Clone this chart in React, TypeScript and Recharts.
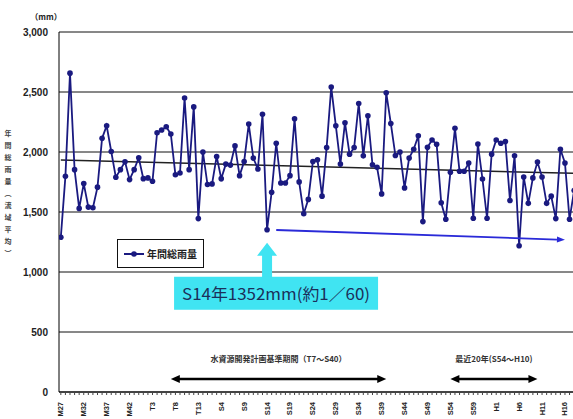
import React from 'react';
import {
  ComposedChart,
  Line,
  XAxis,
  YAxis,
  CartesianGrid,
  Legend,
  ReferenceLine,
  ReferenceDot,
} from 'recharts';

// ---- data ----
const firstYear = 1894;
const rainfall = [
  1290, 1797, 2657, 1853, 1530, 1737, 1541, 1536, 1707, 2114,
  2219, 2004, 1789, 1853, 1919, 1770, 1853, 1952, 1778, 1784,
  1756, 2161, 2183, 2211, 2150, 1811, 1825, 2450, 1853, 2376,
  1445, 1999, 1729, 1734, 1963, 1778, 1899, 1891, 2051, 1803,
  1921, 2233, 1949, 1858, 2315, 1352, 1665, 2073, 1742, 1742,
  1803, 2277, 1751, 1486, 1605, 1921, 1935, 1632, 2037, 2541,
  2219, 1899, 2244, 1982, 2037, 2404, 1968, 2302, 1894, 1872,
  1651, 2494, 2238, 1971, 1999, 1701, 1949, 2023, 2136, 1420,
  2040, 2100, 2065, 1577, 1439, 1831, 2197, 1839, 1839, 1908,
  1448, 2067, 1775, 1448, 1982, 2100, 2073, 2087, 1596, 1968,
  1219, 1792, 1572, 1784, 1916, 1792, 1572, 1632, 1445, 2023,
  1908, 1439, 1680,
];
const years = rainfall.map((_, i) => firstYear + i);

const eraLabels = [
  'M27', 'M32', 'M37', 'M42', 'T3', 'T8', 'T13', 'S4', 'S9', 'S14', 'S19', 'S24',
  'S29', 'S34', 'S39', 'S44', 'S49', 'S54', 'S59', 'H1', 'H6', 'H11', 'H16',
];
const eraLabelYears = eraLabels.map((_, i) => firstYear + 5 * i);

const yTicks = [0, 500, 1000, 1500, 2000, 2500, 3000];

const trendEnds = [
  { year: 1894, value: 1933 },
  { year: 2006, value: 1822 },
];

const declineArrow = [
  { year: 1941, value: 1350 },
  { year: 2004, value: 1268 },
];

const periods = [
  { label: '水資源開発計画基準期間（T7～S40）', from: 1918, to: 1965 },
  { label: '最近20年(S54～H10)', from: 1979, to: 1998 },
];
const periodLevel = 108;

const callout = { year: 1939, value: 1352, text: 'S14年1352mm(約1／60)' };

const seriesName = '年間総雨量';
const yTitleChars = ['年', '間', '総', '雨', '量', '︵', '流', '域', '平', '均', '︶'];

const chartData = years.map((year, i) => {
  const t = trendEnds.find((d) => d.year === year);
  return { year, rain: rainfall[i], trend: t ? t.value : null };
});

// ---- styling ----
const NAVY = '#1a1a80';
const SANS = '"Liberation Sans", Arial, sans-serif';
const CJK = '"Noto Sans CJK JP", "Noto Sans", sans-serif';

const XTick = (props: any) => {
  const { x, y, payload } = props;
  const idx = eraLabelYears.indexOf(payload.value);
  if (idx < 0) return <g />;
  return (
    <text
      transform={`translate(${x + 2.5},${y + 5}) rotate(-90)`}
      textAnchor="end"
      fontSize={7.5}
      fontWeight="bold"
      fill="#222"
      fontFamily={SANS}
    >
      {eraLabels[idx]}
    </text>
  );
};

const YTitle = () => {
  return (
    <g>
      <text x={46} y={20} textAnchor="middle" fontSize={8} fontWeight="bold" fill="#222" fontFamily={CJK}>
        （mm）
      </text>
      {yTitleChars.map((c, i) => (
        <text
          key={i}
          x={8}
          y={136 + i * 12}
          textAnchor="middle"
          fontSize={7}
          fontWeight="bold"
          fill="#444"
          fontFamily={CJK}
        >
          {c}
        </text>
      ))}
    </g>
  );
};

const PeriodShape = (label: string) => (props: any) => {
  const { x1, y1, x2, y2 } = props;
  const hl = 9;
  const hw = 4;
  return (
    <g>
      <line x1={x1 + hl - 1} y1={y1} x2={x2 - hl + 1} y2={y2} stroke="#000" strokeWidth={2.5} />
      <polygon points={`${x1},${y1} ${x1 + hl},${y1 - hw} ${x1 + hl},${y1 + hw}`} fill="#000" />
      <polygon points={`${x2},${y2} ${x2 - hl},${y2 - hw} ${x2 - hl},${y2 + hw}`} fill="#000" />
      <text
        x={(x1 + x2) / 2}
        y={y1 - 17}
        textAnchor="middle"
        fontSize={8}
        fontWeight="bold"
        fill="#333"
        fontFamily={CJK}
      >
        {label}
      </text>
    </g>
  );
};

const ArrowShape = (props: any) => {
  const { x1, y1, x2, y2 } = props;
  const ang = Math.atan2(y2 - y1, x2 - x1);
  const hl = 8;
  const hw = 3;
  const bx = x2 - hl * Math.cos(ang);
  const by = y2 - hl * Math.sin(ang);
  const px = -Math.sin(ang) * hw;
  const py = Math.cos(ang) * hw;
  return (
    <g>
      <line x1={x1} y1={y1} x2={bx} y2={by} stroke="#2a2ad8" strokeWidth={1.8} />
      <polygon points={`${x2},${y2} ${bx + px},${by + py} ${bx - px},${by - py}`} fill="#2a2ad8" />
    </g>
  );
};

const CalloutShape = (props: any) => {
  const { cx, cy } = props;
  const cyan = '#40e4f2';
  return (
    <g>
      <polygon
        points={`${cx},${cy + 13} ${cx + 10},${cy + 26} ${cx + 5},${cy + 26} ${cx + 5},${cy + 48} ${cx - 5},${cy + 48} ${cx - 5},${cy + 26} ${cx - 10},${cy + 26}`}
        fill={cyan}
      />
      <rect x={cx - 93} y={cy + 47} width={204} height={33} fill={cyan} />
      <text
        x={cx + 9}
        y={cy + 70}
        textAnchor="middle"
        fontSize={16}
        fill="#1b2f5a"
        fontFamily={CJK}
        textLength={188}
        lengthAdjust="spacingAndGlyphs"
      >
        {callout.text}
      </text>
    </g>
  );
};

const LegendBox = () => (
  <div
    style={{
      width: 87,
      height: 29,
      boxSizing: 'border-box',
      border: '1.5px solid #111',
      background: '#fff',
      display: 'flex',
      alignItems: 'center',
      paddingLeft: 6,
    }}
  >
    <svg width={20} height={10} style={{ display: 'block' }}>
      <line x1={0} y1={5} x2={20} y2={5} stroke={NAVY} strokeWidth={2} />
      <circle cx={10} cy={5} r={2.8} fill={NAVY} />
    </svg>
    <span
      style={{
        marginLeft: 3,
        fontSize: 10,
        fontWeight: 'bold',
        color: '#222',
        fontFamily: CJK,
        lineHeight: '10px',
        whiteSpace: 'nowrap',
      }}
    >
      {seriesName}
    </span>
  </div>
);

export default function App() {
  return (
    <div
      style={{
        position: 'fixed',
        left: 0,
        top: 0,
        width: 573,
        height: 419,
        overflow: 'hidden',
        background: '#fff',
      }}
    >
      <ComposedChart
        width={600}
        height={419}
        data={chartData}
        margin={{ top: 32, right: 19, bottom: 0, left: 0 }}
      >
        <CartesianGrid vertical={false} stroke="#111" strokeWidth={1} />
        <XAxis
          type="number"
          dataKey="year"
          domain={[1893.6, 2007.5]}
          allowDataOverflow
          ticks={years}
          interval={0}
          height={27}
          tickSize={3}
          tickMargin={2}
          tick={<XTick />}
          axisLine={{ stroke: '#000' }}
          tickLine={{ stroke: '#444' }}
        />
        <YAxis
          type="number"
          domain={[0, 3000]}
          ticks={yTicks}
          width={59}
          tickSize={0}
          tickMargin={11}
          tickLine={false}
          axisLine={{ stroke: '#000' }}
          tickFormatter={(v: number) => v.toLocaleString('en-US')}
          tick={{ fontSize: 10, fontWeight: 'bold', fill: '#222', fontFamily: SANS }}
          label={<YTitle />}
        />
        <Legend
          layout="vertical"
          align="center"
          verticalAlign="middle"
          wrapperStyle={{ left: 117, top: 239, width: 87, height: 29 }}
          content={() => <LegendBox />}
        />
        <Line
          dataKey="trend"
          connectNulls
          dot={false}
          activeDot={false}
          stroke="#222"
          strokeWidth={1.5}
          isAnimationActive={false}
          legendType="none"
        />
        <Line
          dataKey="rain"
          name={seriesName}
          stroke={NAVY}
          strokeWidth={1.8}
          dot={{ r: 2.8, fill: NAVY, stroke: NAVY, strokeWidth: 0 }}
          activeDot={false}
          isAnimationActive={false}
        />
        <ReferenceLine
          segment={[
            { x: declineArrow[0].year, y: declineArrow[0].value },
            { x: declineArrow[1].year, y: declineArrow[1].value },
          ]}
          shape={ArrowShape}
          ifOverflow="visible"
        />
        {periods.map((p) => (
          <ReferenceLine
            key={p.label}
            segment={[
              { x: p.from, y: periodLevel },
              { x: p.to, y: periodLevel },
            ]}
            shape={PeriodShape(p.label)}
            ifOverflow="visible"
          />
        ))}
        <ReferenceDot
          x={callout.year}
          y={callout.value}
          r={0}
          shape={CalloutShape}
          ifOverflow="visible"
        />
      </ComposedChart>
    </div>
  );
}
